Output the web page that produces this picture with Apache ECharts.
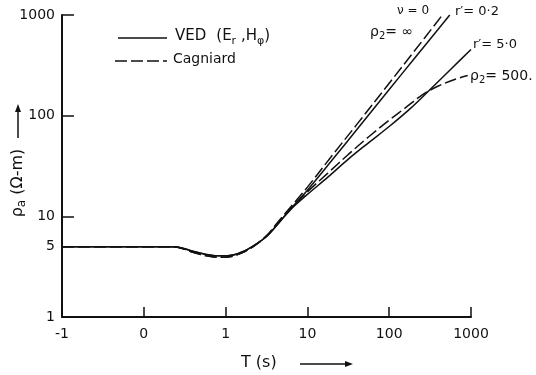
<!DOCTYPE html>
<html><head><meta charset="utf-8">
<script src="https://cdn.jsdelivr.net/npm/echarts@6/dist/echarts.min.js"></script>
<style>html,body{margin:0;padding:0;background:#fff}#c{width:536px;height:375px}</style>
</head><body><div id="c"></div>
<script>
// Period axis: equal-width decades, labelled as printed on the sheet.
const tickLabelsX = ['-1', '0', '1', '10', '100', '1000'];
const tickLabelsY = [1, 5, 10, 100, 1000];
const tickMarksY = [10, 100, 1000];

// Cagniard, nu = 0 (rho2 = infinity)
const cagInfX = [0, 0.5, 1.0, 1.3, 1.45, 1.6, 1.75, 1.9, 2.05, 2.2, 2.35, 2.5, 2.65, 2.8, 3.0, 3.3, 3.6, 4.0, 4.3, 4.65];
const cagInfY = [5, 5, 5, 4.98, 4.85, 4.4, 4.08, 3.92, 3.97, 4.35, 5.1, 6.4, 9.0, 12.5, 19.5, 40, 81, 210, 430, 1000];

// Cagniard, rho2 = 500
const cag500X = [0, 0.5, 1.0, 1.3, 1.45, 1.6, 1.75, 1.9, 2.05, 2.2, 2.35, 2.5, 2.65, 2.8, 3.0, 3.25, 3.5, 3.75, 4.0, 4.2, 4.4, 4.6, 4.8, 4.96];
const cag500Y = [5, 5, 5, 4.98, 4.85, 4.4, 4.08, 3.92, 3.97, 4.35, 5.1, 6.4, 8.8, 12.0, 17.5, 26.9, 41.2, 61.7, 90.2, 120, 160, 197, 229, 251];

// VED (Er, Hphi), r' = 0.2
const ved02X = [0, 0.5, 1.0, 1.3, 1.45, 1.6, 1.75, 1.9, 2.05, 2.2, 2.35, 2.5, 2.65, 2.8, 3.0, 3.3, 3.6, 4.0, 4.3, 4.74];
const ved02Y = [5, 5, 5, 4.98, 4.88, 4.5, 4.2, 4.05, 4.08, 4.42, 5.15, 6.3, 8.6, 12.0, 18.2, 36, 72, 182, 363, 1000];

// VED (Er, Hphi), r' = 5.0
const ved50X = [0, 0.5, 1.0, 1.3, 1.45, 1.6, 1.75, 1.9, 2.05, 2.2, 2.35, 2.5, 2.65, 2.8, 3.0, 3.25, 3.5, 3.75, 4.0, 4.25, 4.5, 4.75, 5.0];
const ved50Y = [5, 5, 5, 4.98, 4.88, 4.5, 4.2, 4.05, 4.08, 4.42, 5.15, 6.3, 8.6, 11.8, 16.5, 24.5, 37, 54, 78, 116, 182, 288, 455];

const FONT = 'DejaVu Sans';
const INK = '#111';
const pairs = (xs, ys) => xs.map((x, i) => [x, ys[i]]);

function curve(name, xs, ys, dashed) {
  return {
    name, type: 'line', data: pairs(xs, ys),
    smooth: 0.35, showSymbol: false, silent: true, clip: true,
    lineStyle: { color: INK, width: 1.5, type: dashed ? [12, 4] : 'solid' }
  };
}

const sub = (size, pad) => ({ fontFamily: FONT, fontSize: size, fill: INK, padding: [pad, 0, 0, 0] });
const txt = size => ({ fontFamily: FONT, fontSize: size, fill: INK });

const chart = echarts.init(document.getElementById('c'), null, { renderer: 'canvas' });
chart.setOption({
  animation: false,
  backgroundColor: '#fff',
  grid: { left: 62, right: 65, top: 15, bottom: 58 },
  xAxis: {
    type: 'value', min: 0, max: 5, interval: 1,
    axisLine: { lineStyle: { color: INK, width: 2 } },
    axisTick: { inside: true, length: 10, lineStyle: { color: INK, width: 1.5 } },
    splitLine: { show: false },
    axisLabel: {
      margin: 10, color: INK, fontFamily: FONT, fontSize: 14,
      formatter: v => tickLabelsX[Math.round(v)]
    }
  },
  yAxis: {
    type: 'log', logBase: 10, min: 1, max: 1000,
    axisLine: { show: true, lineStyle: { color: INK, width: 2 } },
    axisTick: { show: true, inside: true, length: 12, customValues: tickMarksY,
      lineStyle: { color: INK, width: 1.5 } },
    splitLine: { show: false },
    axisLabel: {
      customValues: tickLabelsY, margin: 7, color: INK, fontFamily: FONT, fontSize: 14,
      formatter: v => String(Math.round(v))
    }
  },
  series: [
    curve('VED r\'=0.2', ved02X, ved02Y, false),
    curve('VED r\'=5.0', ved50X, ved50Y, false),
    curve('Cagniard inf', cagInfX, cagInfY, true),
    curve('Cagniard 500', cag500X, cag500Y, true)
  ],
  graphic: [
    // key
    { type: 'line', shape: { x1: 118, y1: 38, x2: 167, y2: 38 }, style: { stroke: INK, lineWidth: 1.5 } },
    { type: 'text', left: 175, top: 29, style: {
      text: '{n|VED}   {n|(E}{s|r}{n| ,H}{s|φ}{n|)}', fill: INK,
      rich: { n: txt(15), s: sub(11, 10) } } },
    { type: 'line', shape: { x1: 115, y1: 61, x2: 167, y2: 61 }, style: { stroke: INK, lineWidth: 1.5, lineDash: [12, 4] } },
    { type: 'text', left: 173, top: 52, style: { text: 'Cagniard', fontFamily: FONT, fontSize: 14, fill: INK } },

    // curve labels
    { type: 'text', left: 397, top: 5, style: { text: 'ν = 0', fontFamily: FONT, fontSize: 12, fill: INK } },
    { type: 'text', left: 370, top: 25, style: {
      text: '{n|ρ}{s|2}{n|= ∞}', rich: { n: txt(14), s: sub(10, 8) } } },
    { type: 'text', left: 455, top: 5, style: { text: 'r\u2032= 0·2', fontFamily: FONT, fontSize: 13, fill: INK } },
    { type: 'text', left: 473, top: 38, style: { text: 'r\u2032= 5·0', fontFamily: FONT, fontSize: 13, fill: INK } },
    { type: 'text', left: 470, top: 69, style: {
      text: '{n|ρ}{s|2}{n|= 500.}', rich: { n: txt(14), s: sub(10, 8) } } },

    // y-axis title with arrow
    { type: 'text', x: 18, y: 183, rotation: Math.PI / 2, style: {
      text: '{n|ρ}{s|a}{n| (Ω-m)}', align: 'center', verticalAlign: 'middle',
      rich: { n: txt(16), s: sub(12, 8) } } },
    { type: 'line', shape: { x1: 18, y1: 138, x2: 18, y2: 110 }, style: { stroke: INK, lineWidth: 1.5 } },
    { type: 'polygon', shape: { points: [[18, 104], [15, 112], [21, 112]] }, style: { fill: INK } },

    // x-axis title with arrow
    { type: 'text', left: 241, top: 355, style: { text: 'T (s)', fontFamily: FONT, fontSize: 16, fill: INK } },
    { type: 'line', shape: { x1: 300, y1: 364, x2: 346, y2: 364 }, style: { stroke: INK, lineWidth: 1.5 } },
    { type: 'polygon', shape: { points: [[353, 364], [345, 361], [345, 367]] }, style: { fill: INK } }
  ]
});
</script>
</body></html>
